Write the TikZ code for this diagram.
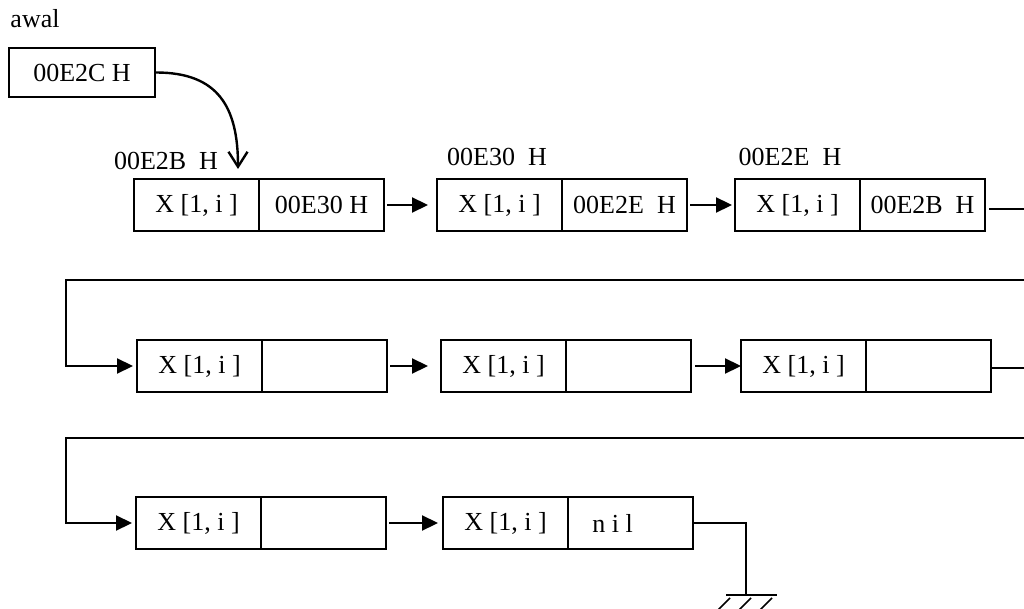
\documentclass[tikz,border=0pt]{standalone}
\usepackage{fontspec}
\setmainfont{Liberation Serif}
\usetikzlibrary{positioning,arrows.meta}
\tikzset{
    every node/.style={font=\fontsize{26}{30}\selectfont}
}
\tikzset{
    cell/.style={draw, rectangle, line width=2.2pt, outer sep=0pt,
        inner sep=0pt, minimum width=125pt, minimum height=52pt}
}
\tikzset{
    link/.style={line width=2.2pt, shorten <=3pt, shorten >=5pt,
        -{Triangle[length=16pt,width=15pt]}},
    wire/.style={line width=1.6pt}
}

\begin{document}
\begin{tikzpicture}[x=1pt, y=-1pt]
  \useasboundingbox (0,0) rectangle (1024,609);

  \node (awal) at (35,19) {awal};
  \node (head) [draw, line width=2.2pt, minimum width=146pt,
      minimum height=49pt] at (82,72.5) {00E2C H};
  \coordinate (tip) at (238,169);

  % first row, with addresses on top
  \node (i1) [cell] at (196.5,205) {X [1, i ]};
  \node (n1) [cell, right=0pt of i1] {00E30 H};
  \node (i2) [cell] at (499.5,205) {X [1, i ]};
  \node (n2) [cell, right=0pt of i2] {00E2E\ \ H};
  \node (i3) [cell] at (797.5,205) {X [1, i ]};
  \node (n3) [cell, right=0pt of i3] {00E2B\ \ H};

  \node (adr1) at (166,161) {00E2B\ \ H};
  \node (adr2) at (497,157) {00E30\ \ H};
  \node (adr3) at (790,157) {00E2E\ \ H};

  % second row
  \node (i4) [cell] at (199.5,366) {X [1, i ]};
  \node (n4) [cell, right=0pt of i4] {};
  \node (i5) [cell] at (503.5,366) {X [1, i ]};
  \node (n5) [cell, right=0pt of i5] {};
  \node (i6) [cell] at (803.5,366) {X [1, i ]};
  \node (n6) [cell, right=0pt of i6] {};

  % third row
  \node (i7) [cell] at (198.5,523) {X [1, i ]};
  \node (n7) [cell, right=0pt of i7] {};
  \node (i8) [cell] at (505.5,523) {X [1, i ]};
  \node (n8) [cell, right=0pt of i8] {n i l\hspace*{36pt}};

  \coordinate (r1) at (1024,209);
  \coordinate (r2) at (1024,280);
  \coordinate (c2) at (66,280);
  \coordinate (r3) at (1024,368);
  \coordinate (r4) at (1024,438);
  \coordinate (c3) at (66,438);
  \coordinate (gnd) at (746,595);

  \draw [line width=2.4pt, -{Straight Barb[length=15pt,width=19pt]}]
    (head.east) to[out=0, in=90, looseness=1.25] (tip);

  \draw [link, shorten >=9pt] (n1) -- (i2);
  \draw [link, shorten >=3pt] (n2) -- (i3);
  \draw [wire, shorten <=4pt] (n3.east |- r1) -- (r1);

  \draw [link, shorten <=0pt, shorten >=4pt] (r2) -- (c2) |- (i4);
  \draw [link, shorten >=13pt] (n4) -- (i5);
  \draw [link, shorten <=4pt, shorten >=0pt] (n5) -- (i6);
  \draw [wire] (n6.east |- r3) -- (r3);

  \draw [link, shorten <=0pt, shorten >=4pt] (r4) -- (c3) |- (i7);
  \draw [link, shorten >=5pt] (n7) -- (i8);

  % nil goes to ground
  \draw [wire, line width=1.8pt] (n8.east) -| (gnd);
  \draw [line width=2pt] (gnd) ++(-20,0) -- ++(51,0);
  \foreach \h in {730,751,772}
    \draw [line width=1.5pt] (\h,598) -- ++(-12,12);
\end{tikzpicture}
\end{document}
